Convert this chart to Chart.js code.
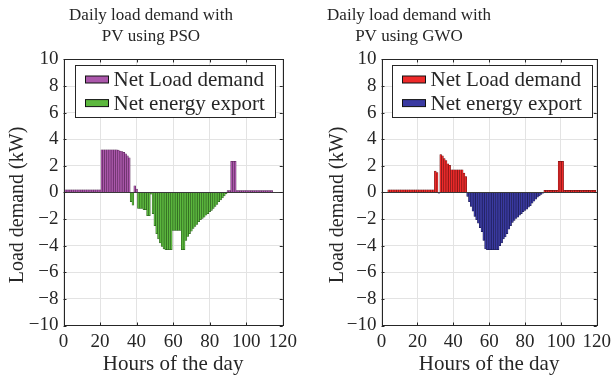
<!DOCTYPE html>
<html>
<head>
<meta charset="utf-8">
<script src="https://cdn.jsdelivr.net/npm/chart.js@4.4.1/dist/chart.umd.min.js"></script>
<style>
  html, body { margin: 0; padding: 0; background: #fff; }
  #wrap { position: relative; width: 616px; height: 383px; overflow: hidden; }
  #wrap canvas { position: absolute; top: 0; }
</style>
</head>
<body>
<div id="wrap">
  <canvas id="chart-pso" width="302" height="383" style="left:0"></canvas>
  <canvas id="chart-gwo" width="414" height="383" style="left:202px"></canvas>
</div>
<script>
'use strict';

// x axis: interval index, first bar of each run
const psoStartHour = 1;
const gwoStartHour = 4;

// net load (kW), positive = demand, negative = export
const psoNet = [
    0.2, 0.2, 0.2, 0.2, 0.2, 0.2, 0.2, 0.2, 0.2, 0.2,
    0.2, 0.2, 0.2, 0.2, 0.2, 0.2, 0.2, 0.2, 0.2, 0.2,
    3.2, 3.2, 3.2, 3.2, 3.2, 3.2, 3.2, 3.2, 3.2, 3.18,
    3.12, 3.08, 3.02, 2.9, 2.75, 2.6,
    -0.7, -0.95, 0.5, 0.25,
    -1.2, -1.2, -1.2, -1.3, -1.3, -1.75, -1.75, -0.12,
    -1.6, -2.5, -3.1, -3.5, -3.8, -4.05, -4.25,
    -4.3, -4.3, -4.3, -4.3,
    -2.85, -2.85, -2.85, -2.85, -2.85,
    -4.3, -4.3,
    -3.6, -3.3, -3.1, -2.9, -2.7, -2.55, -2.4, -2.2, -2.05, -1.95,
    -1.85, -1.7, -1.6, -1.45, -1.35, -1.2, -1.05, -0.9, -0.7, -0.55,
    -0.4, -0.25, -0.1,
    0.15, 0.15,
    2.35, 2.35, 2.35,
    0.15, 0.15, 0.15, 0.15, 0.15, 0.15, 0.15, 0.15, 0.15, 0.15,
    0.15, 0.15, 0.15, 0.15, 0.15, 0.15, 0.15, 0.15, 0.15, 0.15
];

const gwoNet = [
    0.2, 0.2, 0.2, 0.2, 0.2, 0.2, 0.2, 0.2, 0.2, 0.2,
    0.2, 0.2, 0.2, 0.2, 0.2, 0.2, 0.2, 0.2, 0.2, 0.2,
    0.2, 0.2, 0.2, 0.2, 0.2, 0.2,
    1.6, 1.5, -0.05,
    2.85, 2.75, 2.55, 2.4, 2.15, 2.05,
    1.7, 1.7, 1.7, 1.7, 1.7, 1.7, 1.7,
    1.45, 1.2,
    -0.3, -0.7, -1.05, -1.4, -1.8, -2.05, -2.3, -2.65, -2.95, -3.6, -4.25,
    -4.3, -4.3, -4.3, -4.3, -4.3, -4.3, -4.3,
    -4.0, -3.8, -3.5, -3.35, -3.1, -2.75, -2.5, -2.25, -2.1, -1.95,
    -1.85, -1.7, -1.6, -1.45, -1.35, -1.25, -1.1, -1.0, -0.8, -0.65,
    -0.5, -0.35, -0.25, -0.15, -0.05,
    0.17, 0.17, 0.17, 0.17, 0.17, 0.17, 0.17, 0.17,
    2.35, 2.35, 2.35,
    0.17, 0.17, 0.17, 0.17, 0.17, 0.17, 0.17, 0.17, 0.17, 0.17,
    0.17, 0.17, 0.17, 0.17, 0.17, 0.17, 0.17, 0.17
];

const seriesLabels = ['Net Load demand', 'Net energy export'];
const xTicks = [0, 20, 40, 60, 80, 100, 120];
const yTicks = [-10, -8, -6, -4, -2, 0, 2, 4, 6, 8, 10];

const SERIF = "'Liberation Serif', 'Times New Roman', serif";
const INK = '#262626';

// legend with a frame, drawn inside the plot like the MATLAB one
const boxedLegend = {
    id: 'boxedLegend',
    afterDraw(chart, args, opts) {
        const { ctx, chartArea } = chart;
        const sets = chart.data.datasets;
        ctx.save();
        ctx.font = `${opts.fontSize}px ${SERIF}`;
        const textW = Math.max(...sets.map(d => ctx.measureText(d.label).width));
        const x0 = Math.round(chartArea.left + opts.offsetX) + 0.5;
        const y0 = Math.round(chartArea.top + opts.offsetY) + 0.5;
        const w = Math.round(opts.padLeft + opts.swatchW + opts.gap + textW + opts.padRight);
        const h = Math.round(opts.padY * 2 + opts.rowH * sets.length);
        ctx.fillStyle = '#fff';
        ctx.fillRect(x0, y0, w, h);
        ctx.strokeStyle = INK;
        ctx.lineWidth = 1;
        ctx.strokeRect(x0, y0, w, h);
        ctx.textBaseline = 'middle';
        ctx.textAlign = 'left';
        sets.forEach((d, i) => {
            const cy = y0 + opts.padY + opts.rowH * (i + 0.5);
            const sx = x0 + opts.padLeft;
            ctx.fillStyle = d.backgroundColor;
            ctx.fillRect(sx, cy - opts.swatchH / 2, opts.swatchW, opts.swatchH);
            ctx.strokeStyle = '#111';
            ctx.strokeRect(sx, cy - opts.swatchH / 2, opts.swatchW, opts.swatchH);
            ctx.fillStyle = INK;
            ctx.fillText(d.label, sx + opts.swatchW + opts.gap, cy + 1);
        });
        ctx.restore();
    }
};

// axes box plus inward tick marks on all four sides
const axesFrame = {
    id: 'axesFrame',
    afterDatasetsDraw(chart) {
        const { ctx, chartArea: a, scales } = chart;
        ctx.save();
        ctx.strokeStyle = INK;
        ctx.lineWidth = 1;
        ctx.beginPath();
        xTicks.forEach(v => {
            const px = Math.round(scales.x.getPixelForValue(v)) + 0.5;
            ctx.moveTo(px, a.bottom); ctx.lineTo(px, a.bottom - 3);
            ctx.moveTo(px, a.top); ctx.lineTo(px, a.top + 3);
        });
        yTicks.forEach(v => {
            const py = Math.round(scales.y.getPixelForValue(v)) + 0.5;
            ctx.moveTo(a.left, py); ctx.lineTo(a.left + 3, py);
            ctx.moveTo(a.right, py); ctx.lineTo(a.right - 3, py);
        });
        ctx.stroke();
        ctx.strokeRect(Math.round(a.left) + 0.5, Math.round(a.top) + 0.5,
            Math.round(a.right - a.left), Math.round(a.bottom - a.top));
        ctx.restore();
    }
};

function splitSeries(startHour, values) {
    const pos = [], neg = [];
    values.forEach((v, i) => {
        const pt = { x: startHour + i, y: v };
        (v >= 0 ? pos : neg).push(pt);
    });
    return { pos, neg };
}

function buildChart(canvasId, method, startHour, values, colors, geom) {
    const { pos, neg } = splitSeries(startHour, values);
    const ctx = document.getElementById(canvasId).getContext('2d');
    const barStyle = {
        grouped: false,
        barPercentage: 1,
        categoryPercentage: 1,
        borderWidth: 0.5,
        borderSkipped: 'start'
    };

    return new Chart(ctx, {
        type: 'bar',
        data: {
            datasets: [
                { label: seriesLabels[0], data: pos, backgroundColor: colors.load, borderColor: colors.loadEdge, ...barStyle },
                { label: seriesLabels[1], data: neg, backgroundColor: colors.exp, borderColor: colors.expEdge, ...barStyle }
            ]
        },
        options: {
            responsive: false,
            devicePixelRatio: 1,
            animation: false,
            events: [],
            layout: { padding: 0 },
            scales: {
                x: {
                    type: 'linear',
                    min: 0, max: 120,
                    offset: false,
                    afterBuildTicks: s => { s.ticks = xTicks.map(v => ({ value: v })); },
                    afterFit: s => { s.height = 57.5; },
                    grid: { color: '#e3e3e3', drawTicks: false, offset: false },
                    border: { display: false },
                    ticks: { color: INK, padding: 5, maxRotation: 0, font: { family: SERIF, size: 19 } },
                    title: {
                        display: true, text: 'Hours of the day', color: INK,
                        font: { family: SERIF, size: 21, lineHeight: 1.2 },
                        padding: { top: 0, bottom: 6 }
                    }
                },
                y: {
                    min: -10, max: 10,
                    afterBuildTicks: s => { s.ticks = yTicks.map(v => ({ value: v })); },
                    afterFit: s => { s.width = geom.yAxisWidth; },
                    grid: {
                        color: c => c.tick && c.tick.value === 0 ? '#3a3a3a' : '#e3e3e3',
                        drawTicks: false
                    },
                    border: { display: false },
                    ticks: {
                        color: INK, padding: 5,
                        font: { family: SERIF, size: 19 },
                        callback: v => v < 0 ? '\u2212' + Math.abs(v) : String(v)
                    },
                    title: {
                        display: true,
                        // trailing spaces nudge the label a little below the axis centre, as in the figure
                        text: 'Load demand (kW)     ',
                        color: INK,
                        font: { family: SERIF, size: 20, lineHeight: 1.2 },
                        padding: { top: geom.yTitlePad, bottom: 0 }
                    }
                },
                // empty right-hand axis, only reserves the gap right of the plot box
                yGap: {
                    type: 'linear',
                    position: 'right',
                    display: true,
                    grid: { display: false },
                    border: { display: false },
                    ticks: { display: false },
                    afterFit: s => { s.width = geom.rightGap; }
                }
            },
            plugins: {
                legend: { display: false },
                tooltip: { enabled: false },
                title: {
                    display: true,
                    text: ['Daily load demand with', 'PV using ' + method],
                    color: INK,
                    font: { family: SERIF, size: 17, weight: 'normal', lineHeight: 1.24 },
                    padding: { top: 5, bottom: 12.3 }
                },
                boxedLegend: {
                    fontSize: 21, offsetX: geom.legendX, offsetY: 5.5,
                    padLeft: 10, swatchW: 23, swatchH: 7, gap: 5, padRight: 11,
                    padY: 2.2, rowH: 23.6
                }
            }
        },
        plugins: [axesFrame, boxedLegend]
    });
}

buildChart('chart-pso', 'PSO', psoStartHour, psoNet,
    { load: '#ab57ab', loadEdge: '#4a1c4a', exp: '#5cb83e', expEdge: '#1f4d14' },
    { yAxisWidth: 63.5, rightGap: 18.5, yTitlePad: 6, legendX: 11.5 });

buildChart('chart-gwo', 'GWO', gwoStartHour, gwoNet,
    { load: '#ee2a2a', loadEdge: '#5c0d0d', exp: '#3a3aa2', expEdge: '#141442' },
    { yAxisWidth: 179.5, rightGap: 17.5, yTitlePad: 124, legendX: 10 });
</script>
</body>
</html>
